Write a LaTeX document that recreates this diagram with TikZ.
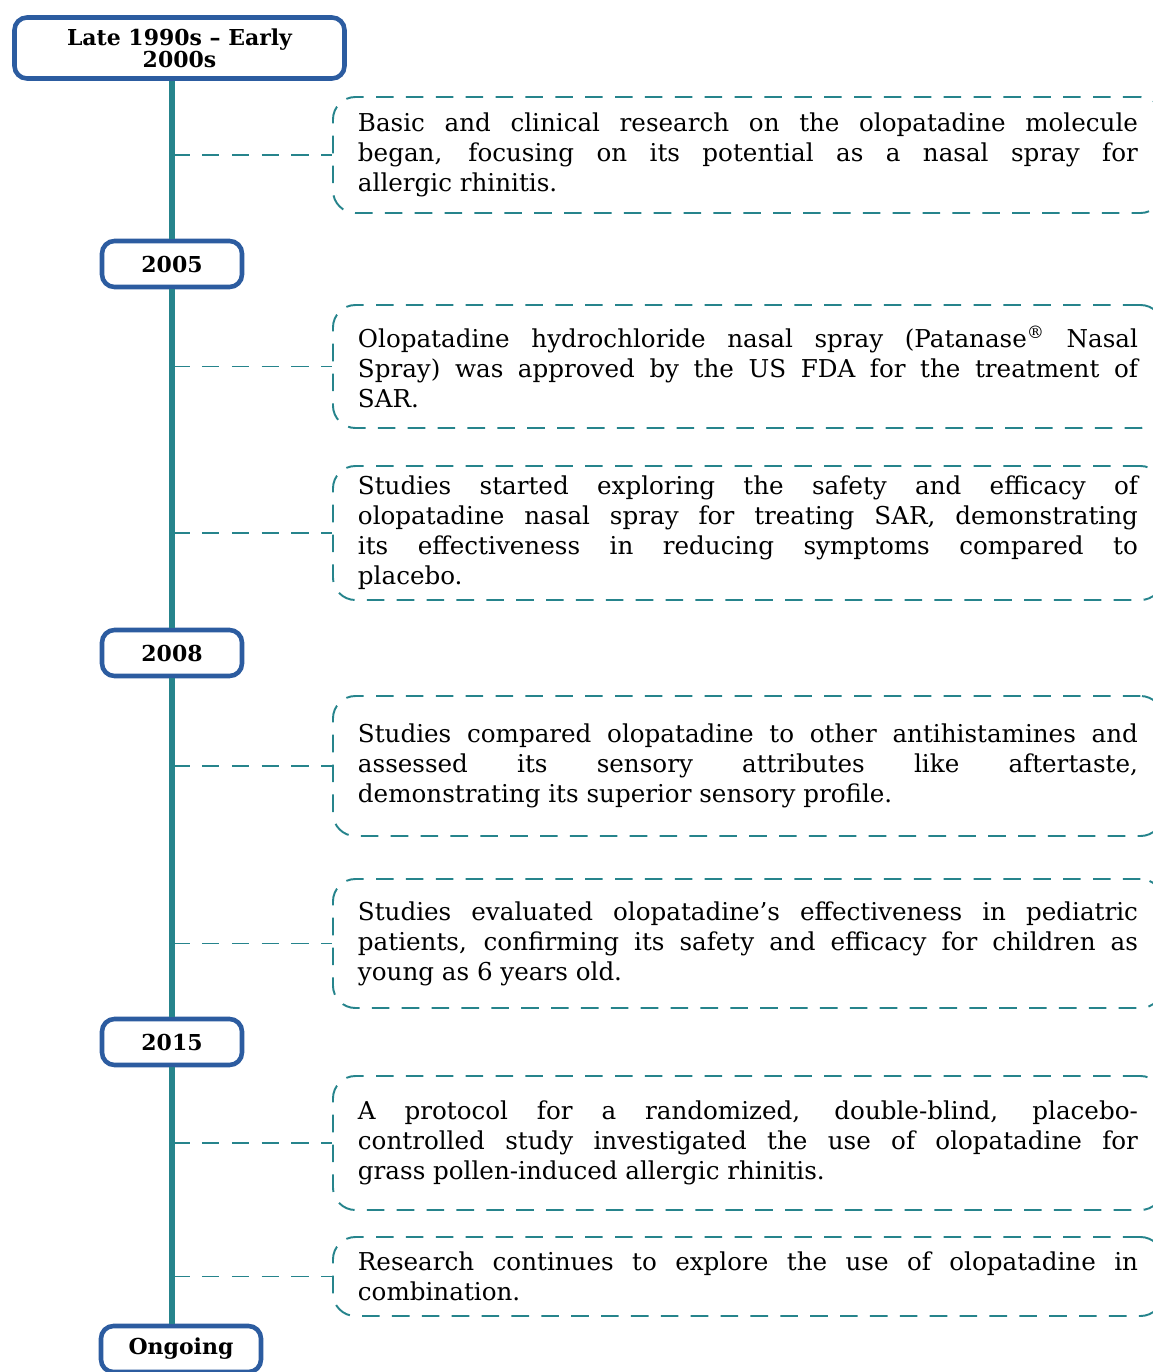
\documentclass[tikz,border=0pt]{standalone}
\usepackage{fontspec}
\setmainfont{DejaVu Serif}
\definecolor{spineteal}{RGB}{38,132,140}
\definecolor{yearblue}{RGB}{44,92,160}
\begin{document}
\begin{tikzpicture}[font=\fontsize{14}{17}\selectfont,
      year/.style={draw=yearblue, line width=2.6pt, rounded corners=0.25cm, fill=white, align=center, font=\fontsize{12.5}{12.5}\selectfont\bfseries, minimum width=2.8cm, minimum height=0.92cm},
      event/.style={draw=spineteal, line width=1.1pt, dash pattern=on 10pt off 7pt, rounded corners=0.45cm, anchor=west, text width=15.6cm, inner xsep=0.5cm, align=justify},
      spine/.style={draw=spineteal, line width=3.2pt},
      link/.style={draw=spineteal, line width=1.1pt, dash pattern=on 10pt off 7pt}]
    \useasboundingbox (0,0) rectangle (23.06,-27.44);
    % years on the time line
    \node[year, minimum width=6.6cm, minimum height=1.22cm] (late) at (3.59,-0.96) {Late 1990s -- Early\\2000s};
    \node[year] (y2005) at (3.44,-5.28) {2005};
    \node[year] (y2008) at (3.44,-13.06) {2008};
    \node[year] (y2015) at (3.44,-20.84) {2015};
    \node[year, minimum width=3.2cm] (ongoing) at (3.62,-26.98) {Ongoing};
    % events
    \node[event, minimum height=2.32cm] (e1) at (6.64,-3.10) {Basic and clinical research on the olopatadine molecule\linebreak began, focusing on its potential as a nasal spray for\linebreak allergic rhinitis.};
    \node[event, minimum height=2.46cm] (e2) at (6.64,-7.33) {Olopatadine hydrochloride nasal spray (Patanase\textsuperscript{®} Nasal\linebreak Spray) was approved by the US FDA for the treatment of\linebreak SAR.};
    \node[event, minimum height=2.68cm] (e3) at (6.64,-10.66) {Studies started exploring the safety and efficacy of\linebreak olopatadine nasal spray for treating SAR, demonstrating\linebreak its effectiveness in reducing symptoms compared to\linebreak placebo.};
    \node[event, minimum height=2.8cm] (e4) at (6.64,-15.32) {Studies compared olopatadine to other antihistamines and\linebreak assessed its sensory attributes like aftertaste,\linebreak demonstrating its superior sensory profile.};
    \node[event, minimum height=2.58cm] (e5) at (6.64,-18.87) {Studies evaluated olopatadine’s effectiveness in pediatric\linebreak patients, confirming its safety and efficacy for children as\linebreak young as 6 years old.};
    \node[event, minimum height=2.68cm] (e6) at (6.64,-22.86) {A protocol for a randomized, double-blind, placebo-\linebreak controlled study investigated the use of olopatadine for\linebreak grass pollen-induced allergic rhinitis.};
    \node[event, minimum height=1.58cm] (e7) at (6.64,-25.53) {Research continues to explore the use of olopatadine in\linebreak combination.};
    % time line
    \draw[spine] (late.south -| y2005.north) -- (y2005.north);
    \draw[spine] (y2005.south) -- (y2008.north);
    \draw[spine] (y2008.south) -- (y2015.north);
    \draw[spine] (y2015.south) -- (y2015.south |- ongoing.north);
    % dashed links
    \foreach \ev in {e1,e2,e3,e4,e5,e6,e7}
      \draw[link] (\ev.west -| y2005.center) -- (\ev.west);
  \end{tikzpicture}
\end{document}
